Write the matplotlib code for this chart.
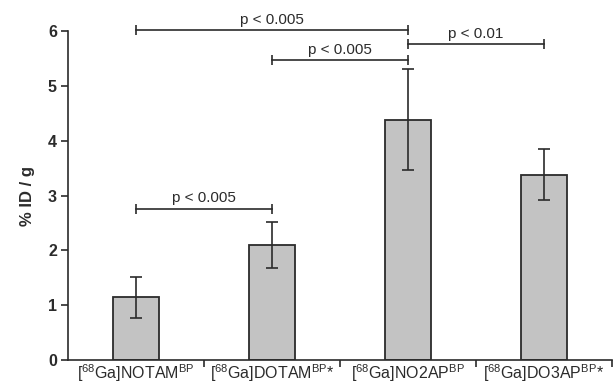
import matplotlib
matplotlib.use("Agg")
import matplotlib.pyplot as plt
import numpy as np

plt.rcParams['font.family'] = ['Liberation Sans', 'DejaVu Sans']
plt.rcParams['mathtext.fontset'] = 'custom'
plt.rcParams['mathtext.rm'] = 'Liberation Sans'
plt.rcParams['mathtext.it'] = 'Liberation Sans:italic'
plt.rcParams['mathtext.bf'] = 'Liberation Sans:bold'

# Tracer uptake per compound
categories = [
    r'[$^{68}$Ga]NOTAM$^{\mathrm{BP}}$',
    r'[$^{68}$Ga]DOTAM$^{\mathrm{BP}}$*',
    r'[$^{68}$Ga]NO2AP$^{\mathrm{BP}}$',
    r'[$^{68}$Ga]DO3AP$^{\mathrm{BP}}$*',
]
uptake = [1.14, 2.09, 4.38, 3.38]
uptake_sd = [0.37, 0.42, 0.92, 0.47]

# Significance comparisons: (first bar, second bar, bracket height, label)
comp_left = [0, 1, 2, 0]
comp_right = [2, 2, 3, 1]
comp_height = [6.01, 5.47, 5.76, 2.76]
comp_label = ['p < 0.005', 'p < 0.005', 'p < 0.01', 'p < 0.005']

ink = '#2b2b2b'

fig = plt.figure(figsize=(6.15, 3.87), dpi=100)
ax = fig.add_axes([68 / 615, 1 - 360 / 387, (612 - 68) / 615, (360 - 31) / 387])

x = np.arange(len(categories))
ax.bar(x, uptake, width=0.34, color='#c3c3c3', edgecolor=ink, linewidth=1.3, zorder=2)
ax.errorbar(x, uptake, yerr=uptake_sd, fmt='none', ecolor=ink, elinewidth=1.2,
            capsize=4, capthick=1.2, zorder=3)

for a, b, h, lab in zip(comp_left, comp_right, comp_height, comp_label):
    ax.plot([x[a], x[b]], [h, h], color=ink, lw=1.2, marker='|', markersize=7,
            markeredgewidth=1.2, clip_on=False, zorder=4)
    ax.annotate(lab, xy=((x[a] + x[b]) / 2, h), xytext=(0, 2.5),
                textcoords='offset points', ha='center', va='bottom',
                fontsize=11, color=ink, annotation_clip=False)

ax.set_xlim(-0.5, len(categories) - 0.5)
ax.set_ylim(0, 6)
ax.set_yticks(range(0, 7))
ax.set_yticklabels([str(v) for v in range(0, 7)], fontsize=11.5, fontweight='bold', color=ink)

ax.set_xticks(x)
ax.set_xticklabels(categories, fontsize=11.5, color=ink)
ax.tick_params(axis='x', length=0, pad=2)
ax.set_xticks(np.arange(0.5, len(categories)), minor=True)
ax.tick_params(axis='x', which='minor', length=5, width=1.2, color=ink, direction='out')
ax.tick_params(axis='y', length=5, width=1.2, color=ink, direction='out', pad=3)

ax.set_ylabel('% ID / g', fontsize=12, fontweight='bold', color=ink, labelpad=9)

for side in ('top', 'right'):
    ax.spines[side].set_visible(False)
for side in ('left', 'bottom'):
    ax.spines[side].set_color(ink)
    ax.spines[side].set_linewidth(1.2)

fig.savefig('out.png', dpi=100)
